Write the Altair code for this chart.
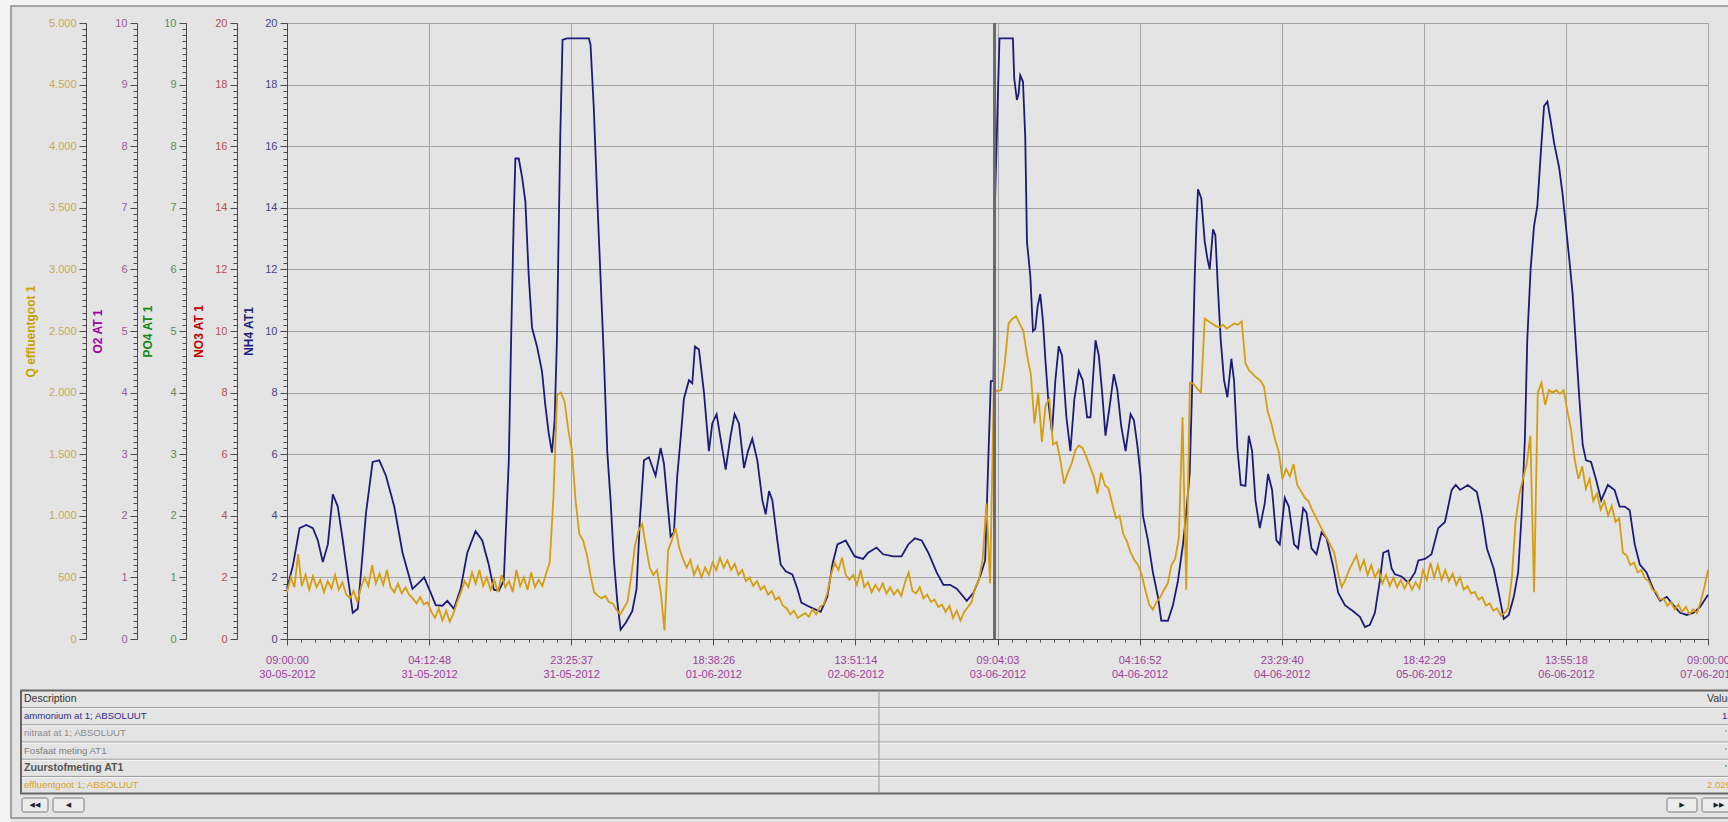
import altair as alt
import numpy as np
import pandas as pd

FONT = "Liberation Sans"
W, H = 1421, 616          # plot area
OX, OY = 287, 23          # plot origin on the page
PAGE_W, PAGE_H = 1728, 822

# ---------------- time axis (hours since 30-05-2012 09:00) ----------------
x_tick_hours = [0, 19.2, 38.4, 57.6, 76.8, 96.0, 115.2, 134.4, 153.6, 172.8, 192.0]
x_tick_times = ["09:00:00", "04:12:48", "23:25:37", "18:38:26", "13:51:14", "09:04:03",
                "04:16:52", "23:29:40", "18:42:29", "13:55:18", "09:00:00"]
x_tick_dates = ["30-05-2012", "31-05-2012", "31-05-2012", "01-06-2012", "02-06-2012",
                "03-06-2012", "04-06-2012", "04-06-2012", "05-06-2012", "06-06-2012", "07-06-2012"]

# ---------------- ammonium (NH4 AT1) ----------------
nh4_hours = [
    0, 0.81, 1.70, 2.60, 3.50, 4.17, 4.84, 5.52, 6.19, 6.86, 7.54, 8.21, 8.88, 9.56, 10.0, 10.68,
    11.57, 12.47, 13.37, 14.49, 15.61, 16.96, 17.85, 18.53, 19.42, 20.1, 21.0, 21.67, 22.56, 23.46,
    24.36, 25.48, 26.38, 27.27, 27.95, 28.62, 29.29, 29.97, 30.28, 30.64, 30.86, 31.31, 31.76, 32.21,
    32.66, 33.11, 33.78, 34.45, 34.9, 35.35, 35.8, 36.16, 36.47, 36.92, 37.23, 37.82,
    40.79, 41.01, 41.46, 41.92, 42.37, 42.82, 43.27, 43.72, 44.17, 44.62, 45.07, 45.75, 46.65, 47.23,
    47.68, 48.23, 48.9, 49.8, 50.48, 50.93, 51.38, 51.83, 52.28, 52.73, 53.18, 53.63, 54.31, 54.76,
    55.12, 55.66, 56.34, 57.01, 57.46, 58.05, 58.59, 59.27, 59.94, 60.48, 61.07, 61.75, 62.29, 62.87,
    63.55, 64.23, 64.68, 65.13, 65.58, 66.25, 66.7, 67.38, 68.28, 68.96, 69.5, 70.31, 71.21, 72.11,
    73.01, 73.69, 74.37, 75.49, 76.53,
    76.71, 77.84, 78.52, 79.65, 80.55, 81.91, 83.03, 83.94, 84.84, 85.75, 86.65, 87.78, 88.68, 89.59,
    90.49, 91.85, 92.75, 93.65, 94.33, 94.78, 95.1, 95.46, 95.68, 96.0, 96.27, 98.08, 98.26, 98.62,
    98.85, 99.07, 99.44, 99.75, 99.98, 100.43, 100.79, 101.11, 101.42, 101.78, 102.15, 102.46, 102.91,
    103.37, 103.82, 104.27, 104.72, 105.31, 105.85, 106.39, 106.98, 107.52, 108.11, 108.56, 109.24,
    109.69, 110.14, 110.59, 111.18, 111.72, 112.18, 112.72, 113.31, 113.98, 114.43, 114.89, 115.34,
    115.65, 116.33, 117.0, 117.68, 118.13, 119.03, 119.71, 120.39, 121.06, 121.51, 121.97, 122.28,
    122.64, 122.87, 123.09, 123.54, 124.0, 124.36, 124.67, 125.12, 125.44, 125.8, 126.16, 126.61,
    127.06, 127.6, 127.96, 128.41, 128.87, 129.5, 129.95, 130.4, 130.85, 131.44, 132.11, 132.56,
    133.1, 133.69, 134.14, 134.82, 135.36, 136.08, 136.62, 137.3, 137.75, 138.43, 139.1, 139.78,
    140.46, 141.36, 142.03, 142.94, 144.06, 144.97, 145.64, 146.32, 146.99, 147.67, 148.12, 148.8,
    149.25, 149.7, 150.6, 151.51, 152.41, 152.86, 153.76,
    154.64, 155.55, 156.46, 157.37, 157.91, 158.5, 159.55, 160.77, 161.45, 162.13, 163.04, 163.72,
    164.4, 165.08, 165.76, 166.35, 166.81, 167.26, 167.58, 168.03, 168.49, 168.94, 169.4, 169.85,
    170.3, 170.76, 171.21, 171.89, 172.35, 172.8, 173.25, 173.71, 174.16, 174.62, 175.07, 175.52,
    176.2, 176.89, 177.57, 178.47, 179.38, 180.06, 180.74, 181.42, 182.1, 182.79, 183.69, 184.6,
    185.51, 186.42, 187.32, 188.23, 189.14, 190.05, 190.96, 192.0,
]
nh4_values = [
    1.63, 2.4, 3.6, 3.7, 3.6, 3.2, 2.5, 3.07, 4.7, 4.3, 3.2, 2.03, 0.85, 0.98, 2.16, 4.1,
    5.75, 5.8, 5.3, 4.3, 2.8, 1.63, 1.83, 2.0, 1.5, 1.1, 1.08, 1.24, 0.98, 1.63,
    2.8, 3.5, 3.2, 2.4, 1.6, 1.57, 1.9, 5.8, 9.7, 13.7, 15.6, 15.6, 15.0, 14.2,
    11.8, 10.1, 9.5, 8.7, 7.6, 6.7, 6.05, 7.1, 9.7, 16.3, 19.45, 19.5,
    19.5, 19.3, 17.2, 14.3, 11.7, 9.1, 6.1, 4.5, 2.55, 1.24, 0.3, 0.52, 0.9, 1.63,
    3.86, 5.8, 5.9, 5.3, 6.2, 5.7, 4.5, 3.33, 3.46, 5.3, 6.5, 7.8, 8.4, 8.3,
    9.5, 9.4, 8.0, 6.1, 7.0, 7.3, 6.5, 5.5, 6.6, 7.3, 7.0, 5.55, 6.1, 6.5,
    5.8, 4.5, 4.05, 4.8, 4.5, 3.2, 2.42, 2.2, 2.1, 1.63, 1.18, 1.08, 0.98, 0.88,
    1.37, 2.42, 3.07, 3.2, 2.75,
    2.68, 2.6, 2.8, 2.97, 2.75, 2.68, 2.68, 3.07, 3.27, 3.2, 2.8, 2.16, 1.76, 1.76,
    1.63, 1.24, 1.5, 2.03, 2.55, 6.0, 8.37, 8.37, 14.3, 17.2, 19.5, 19.5, 18.2, 17.5,
    17.7, 18.3, 18.1, 16.3, 12.9, 11.8, 10.0, 10.07, 10.8, 11.2, 10.3, 9.1, 7.6,
    6.7, 8.4, 9.5, 9.2, 7.2, 6.1, 7.8, 8.7, 8.4, 7.2, 7.2, 9.7,
    9.2, 8.0, 6.6, 7.6, 8.6, 8.1, 6.9, 6.1, 7.3, 7.1, 6.3, 5.3,
    4.0, 3.2, 2.16, 1.37, 0.6, 0.59, 1.1, 1.9, 3.07, 4.1, 5.4, 8.0,
    11.7, 13.4, 14.6, 14.3, 12.9, 12.35, 12.0, 13.3, 13.1, 11.3, 9.7, 8.4,
    7.85, 9.1, 8.4, 6.2, 5.0, 4.97, 6.6, 6.1, 4.5, 3.6, 4.4, 5.36,
    4.84, 3.2, 3.07, 4.58, 4.3, 3.07, 2.94, 4.25, 4.1, 2.94, 2.75, 3.46,
    3.27, 2.35, 1.5, 1.1, 0.9, 0.72, 0.39, 0.46, 0.85, 1.9, 2.8, 2.87,
    2.29, 2.1, 2.03, 1.83, 2.16, 2.55, 2.6,
    2.75, 3.6, 3.8, 4.84, 5.0, 4.84, 5.0, 4.77, 4.0, 2.94, 2.29, 1.5,
    0.65, 0.78, 1.37, 2.16, 4.0, 6.5, 9.7, 12.0, 13.4, 14.05, 15.75, 17.3,
    17.45, 16.8, 16.1, 15.3, 14.45, 13.4, 12.35, 11.2, 9.5, 7.8, 6.3, 5.8,
    5.75, 5.16, 4.5, 5.0, 4.84, 4.3, 4.3, 4.18, 3.07, 2.42, 2.16, 1.63,
    1.24, 1.37, 1.1, 0.85, 0.78, 0.85, 1.05, 1.44,
]

# ---------------- effluent flow (Q effluentgoot 1), logged every 30 min ----------------
q_step_hours = 0.5
q_values = [
    380, 500, 420, 690, 430, 520, 400, 510, 420, 480, 380, 470, 410, 520, 400, 460,
    360, 330, 390, 300, 420, 500, 430, 600, 450, 530, 440, 560, 420, 380, 450, 370,
    420, 360, 330, 290, 340, 280, 300, 220, 170, 250, 150, 230, 140, 210, 300, 380,
    470, 420, 540, 450, 560, 430, 500, 400, 480, 380, 520, 420, 470, 380, 560, 430,
    500, 400, 540, 420, 480, 430, 530, 620, 1150, 1980, 2000, 1930, 1700, 1530, 1120, 850,
    800, 690, 520, 380, 350, 330, 350, 300, 290, 240, 200, 250, 300, 500, 750, 880,
    930, 750, 580, 520, 560, 380, 70, 720, 800, 900, 740, 650, 580, 640, 520, 590,
    500, 580, 520, 620, 560, 660, 580, 640, 560, 610, 520, 560, 470, 500, 430, 470,
    400, 430, 360, 390, 320, 340, 270, 250, 200, 230, 170, 190, 210, 180, 240, 200,
    260, 280, 370, 520, 620, 560, 660, 520, 480, 520, 440, 560, 420, 460, 380, 440,
    390, 450, 370, 420, 360, 400, 350, 460, 540, 390, 370, 420, 330, 360, 300, 320,
    260, 280, 220, 270, 170, 230, 150, 220, 260, 300, 420, 480, 650, 1100, 450, 2030,
    2010, 2020, 2250, 2560, 2600, 2620, 2560, 2500, 2300, 2150, 1750, 2000, 1600, 1900, 1950, 1580,
    1600, 1450, 1260, 1350, 1420, 1530, 1570, 1550, 1480, 1400, 1320, 1180, 1350, 1250, 1220, 1100,
    980, 1000, 850, 790, 700, 640, 600, 520, 390, 280, 240, 300, 340, 400, 450, 600,
    650, 820, 1800, 400, 2080, 2070, 2030, 2000, 2600, 2580, 2560, 2540, 2530, 2550, 2520, 2540,
    2560, 2550, 2580, 2240, 2180, 2150, 2120, 2100, 2050, 1850, 1750, 1620, 1520, 1300, 1380, 1320,
    1420, 1250, 1200, 1150, 1120, 1050, 990, 930, 870, 820, 760, 700, 540, 420, 480, 560,
    620, 680, 560, 640, 520, 600, 500, 560, 450, 520, 430, 500, 420, 480, 410, 470,
    400, 460, 410, 560, 480, 620, 500, 600, 480, 560, 470, 530, 440, 500, 400, 430,
    370, 380, 320, 340, 270, 290, 230, 250, 190, 210, 250, 500, 950, 1170, 1300, 1420,
    1650, 380, 2000, 2080, 1900, 2020, 2000, 2020, 1990, 2020, 1850, 1700, 1450, 1300, 1400, 1220,
    1300, 1120, 1180, 1050, 1120, 1000, 1080, 950, 980, 700, 680, 600, 620, 540, 560, 490,
    470, 400, 380, 320, 330, 270, 300, 240, 280, 220, 260, 200, 240, 210, 300, 420,
    560,
]
q_hours = [i * q_step_hours for i in range(len(q_values))]

# cursor position (hours)
cursor_hours = [95.6]

# ---------------- legend table ----------------
table_desc = ["Description", "ammonium at 1; ABSOLUUT", "nitraat at 1; ABSOLUUT",
              "Fosfaat meting AT1", "Zuurstofmeting AT1", "effluentgoot 1; ABSOLUUT"]
table_colors = ["#333333", "#2B2B8C", "#8C8C8C", "#7C7C7C", "#555555", "#D2A526"]

nh4_at_cursor = float(np.interp(cursor_hours[0], nh4_hours, nh4_values))
q_at_cursor = float(np.interp(cursor_hours[0], q_hours, q_values))
table_values = ["Value",
                f"{nh4_at_cursor:.2f}".replace(".", ","),
                "'", "'", "'",
                f"{q_at_cursor:,.1f}".replace(",", "X").replace(".", ",").replace("X", ".")]
value_colors = ["#333333", "#2B2B8C", "#8C8C8C", "#7C7C7C", "#555555", "#D2A526"]

# ---------------- styling ----------------
AXIS_C = "#4a4a4a"
GRID_C = "#a4a4a4"
BG = "#e4e4e4"
NH4_LINE = "#1c1c78"
Q_LINE = "#d49d12"


def px(x):
    return x - OX


def py(y):
    return y - OY


xs = alt.Scale(domain=[0, 192], nice=False, zero=False)

x_label_expr = "[" + ",".join(
    f"['{t}','{d}']" for t, d in zip(x_tick_times, x_tick_dates)
) + "][round(datum.value / 19.2)]"


def left_axis(title, title_color, label_color, values, offset, title_x, grid=False, label_expr=None):
    kw = dict(
        orient="left", offset=offset, values=values, title=title,
        titleColor=title_color, titleFont=FONT, titleFontSize=12, titleFontWeight="bold",
        titleAngle=270, titleAlign="center", titleBaseline="middle",
        titleX=title_x, titleY=H / 2,
        labelColor=label_color, labelFont=FONT, labelFontSize=11, labelPadding=3,
        tickSize=7, tickColor=AXIS_C, domainColor=AXIS_C, domainWidth=1,
        grid=grid, gridColor=GRID_C, gridWidth=1, labelOverlap=False,
    )
    if label_expr:
        kw["labelExpr"] = label_expr
    return alt.Axis(**kw)


def minor_axis(values, offset):
    return alt.Axis(orient="left", offset=offset, values=values, labels=False, title=None,
                    domain=False, grid=False, tickSize=4, tickColor=AXIS_C)


empty = pd.DataFrame({"hours": [], "value": []})

# NH4 line with time axis and both grids
nh4_df = pd.DataFrame({"hours": nh4_hours, "value": nh4_values})
nh4_layer = alt.Chart(nh4_df).mark_line(color=NH4_LINE, strokeWidth=1.8).encode(
    x=alt.X("hours:Q", scale=xs, axis=alt.Axis(
        orient="bottom", values=x_tick_hours, labelExpr=x_label_expr, title=None,
        labelColor="#9b3f9b", labelFont=FONT, labelFontSize=11, labelLineHeight=14,
        labelPadding=9, labelFlush=False, labelOverlap=False,
        tickSize=6, tickColor=AXIS_C, domainColor=AXIS_C,
        grid=True, gridColor=GRID_C, gridWidth=1)),
    y=alt.Y("value:Q", scale=alt.Scale(domain=[0, 20], nice=False),
            axis=left_axis("NH4 AT1", "#1f1f80", "#45457f", list(range(0, 21, 2)), 0, -39, grid=True)),
)

q_df = pd.DataFrame({"hours": q_hours, "value": q_values})
q_layer = alt.Chart(q_df).mark_line(color=Q_LINE, strokeWidth=1.8).encode(
    x=alt.X("hours:Q", scale=xs, axis=None),
    y=alt.Y("value:Q", scale=alt.Scale(domain=[0, 5000], nice=False),
            axis=left_axis("Q effluentgoot 1", "#c9a000", "#c8aa55", list(range(0, 5001, 500)), 201, -56,
                           label_expr="replace(format(datum.value, ','), ',', '.')")),
)

# sensors without readings in this period: axes only
no3_layer = alt.Chart(empty).mark_line(color="#b00000").encode(
    x=alt.X("hours:Q", scale=xs, axis=None),
    y=alt.Y("value:Q", scale=alt.Scale(domain=[0, 20], nice=False),
            axis=left_axis("NO3 AT 1", "#c00000", "#b45050", list(range(0, 21, 2)), 50, -39)),
)
po4_layer = alt.Chart(empty).mark_line(color="#148a14").encode(
    x=alt.X("hours:Q", scale=xs, axis=None),
    y=alt.Y("value:Q", scale=alt.Scale(domain=[0, 10], nice=False),
            axis=left_axis("PO4 AT 1", "#138a13", "#5a8c5a", list(range(0, 11)), 101, -39)),
)
o2_layer = alt.Chart(empty).mark_line(color="#a000a0").encode(
    x=alt.X("hours:Q", scale=xs, axis=None),
    y=alt.Y("value:Q", scale=alt.Scale(domain=[0, 10], nice=False),
            axis=left_axis("O2 AT 1", "#a000a0", "#9c5a9c", list(range(0, 11)), 150, -40)),
)

# minor ticks
minor_layers = []
for dom, step, off in [(20, 0.2, 0), (20, 0.2, 50), (10, 0.1, 101), (10, 0.1, 150), (5000, 50, 201)]:
    vals = [round(i * step, 3) for i in range(101)]
    minor_layers.append(alt.Chart(empty).mark_point(opacity=0).encode(
        y=alt.Y("value:Q", scale=alt.Scale(domain=[0, dom], nice=False), axis=minor_axis(vals, off))))
x_minor = alt.Chart(empty).mark_point(opacity=0).encode(
    x=alt.X("hours:Q", scale=xs, axis=alt.Axis(
        orient="bottom", values=[round(i * 1.92, 3) for i in range(101)], labels=False, title=None,
        domain=False, grid=False, tickSize=3, tickColor=AXIS_C)))

cursor_layer = alt.Chart(pd.DataFrame({"hours": cursor_hours})).mark_rule(
    color="#6a6a6a", strokeWidth=3).encode(x=alt.X("hours:Q", scale=xs, axis=None))

# ---------------- page chrome and table ----------------
one = pd.DataFrame({"k": [0]})


def box(x1, x2, y1, y2, **mark):
    return alt.Chart(one).mark_rect(**mark).encode(
        x=alt.value(px(x1)), x2=alt.value(px(x2)), y=alt.value(py(y1)), y2=alt.value(py(y2)))


outer_white = [box(0, 11, 0, PAGE_H, fill="#f4f4f4"), box(0, PAGE_W + 40, 0, 6, fill="#f4f4f4")]
frame = box(11, PAGE_W + 40, 6, 818, filled=False, stroke="#8a8a8a", strokeWidth=1.5)

t_scale = alt.Scale(domain=[-0.5, 5.5], range=[py(690.4), py(793.6)])
tbl = pd.DataFrame({"row": list(range(6)), "desc": table_desc, "color": table_colors,
                    "value": table_values, "vcolor": value_colors})
edges = pd.DataFrame({"edge": [0.5, 1.5, 2.5, 3.5, 4.5]})
outer_edges = pd.DataFrame({"edge": [-0.5, 5.5]})
span = pd.DataFrame({"top": [-0.5], "bot": [5.5]})

inner_lines = alt.Chart(edges).mark_rule(color="#9a9a9a", strokeWidth=1).encode(
    y=alt.Y("edge:Q", scale=t_scale, axis=None), x=alt.value(px(20)), x2=alt.value(PAGE_W))
inner_hi = alt.Chart(edges).mark_rule(color="#f6f6f6", strokeWidth=1, yOffset=1.2).encode(
    y=alt.Y("edge:Q", scale=t_scale, axis=None), x=alt.value(px(20)), x2=alt.value(PAGE_W))
outer_lines = alt.Chart(outer_edges).mark_rule(color="#666666", strokeWidth=2).encode(
    y=alt.Y("edge:Q", scale=t_scale, axis=None), x=alt.value(px(20)), x2=alt.value(PAGE_W))
left_border = alt.Chart(span).mark_rule(color="#666666", strokeWidth=2).encode(
    y=alt.Y("top:Q", scale=t_scale, axis=None), y2="bot:Q", x=alt.value(px(21)))
divider = alt.Chart(span).mark_rule(color="#9a9a9a", strokeWidth=1).encode(
    y=alt.Y("top:Q", scale=t_scale, axis=None), y2="bot:Q", x=alt.value(px(879)))


def table_text(filter_expr, x_abs, field, color_field, **mark):
    return alt.Chart(tbl).transform_filter(filter_expr).mark_text(
        align="left", baseline="middle", font=FONT, **mark).encode(
        x=alt.value(px(x_abs)), y=alt.Y("row:Q", scale=t_scale, axis=None), text=f"{field}:N",
        color=alt.Color(f"{color_field}:N", scale=None))


desc_head = table_text("datum.row == 0", 24, "desc", "color", fontSize=10.5)
desc_text = table_text("datum.row > 0 && datum.row != 4", 24, "desc", "color", fontSize=9.6)
desc_bold = table_text("datum.row == 4", 24, "desc", "color", fontSize=10.6, fontWeight="bold")
value_head = table_text("datum.row == 0", 1707, "value", "vcolor", fontSize=10.5)
value_nh4 = table_text("datum.row == 1", 1722, "value", "vcolor", fontSize=9.6)
value_mid = table_text("datum.row >= 2 && datum.row <= 4", 1725, "value", "vcolor", fontSize=9.6)
value_q = table_text("datum.row == 5", 1707, "value", "vcolor", fontSize=9.6)

# navigation buttons
buttons = []
for x1, x2, glyph in [(22, 48, "◀◀"), (53, 84, "◀"), (1667, 1697, "▶"), (1702, 1736, "▶▶")]:
    buttons.append(box(x1, x2, 798, 812, fill="#ececec", stroke="#7c7c7c", strokeWidth=1, cornerRadius=2))
    buttons.append(alt.Chart(one).mark_text(text=glyph, font="DejaVu Sans", fontSize=7,
                                            color="#222222", baseline="middle", align="center").encode(
        x=alt.value(px((x1 + x2) / 2)), y=alt.value(py(805))))

layers = (outer_white + [frame, no3_layer, po4_layer, o2_layer] + minor_layers + [x_minor,
          nh4_layer, q_layer, cursor_layer, inner_lines, inner_hi, outer_lines, left_border,
          divider, desc_head, desc_text, desc_bold, value_head, value_nh4, value_mid, value_q] + buttons)

chart = alt.layer(*layers).resolve_scale(x="independent", y="independent").properties(
    width=W, height=H,
    padding={"left": OX, "top": OY, "right": PAGE_W - OX - W, "bottom": PAGE_H - OY - H},
    autosize=alt.AutoSizeParams(type="none"),
    background=BG,
).configure_view(stroke=None)

chart.save("out.html", embed_options={"renderer": "svg", "actions": False})
